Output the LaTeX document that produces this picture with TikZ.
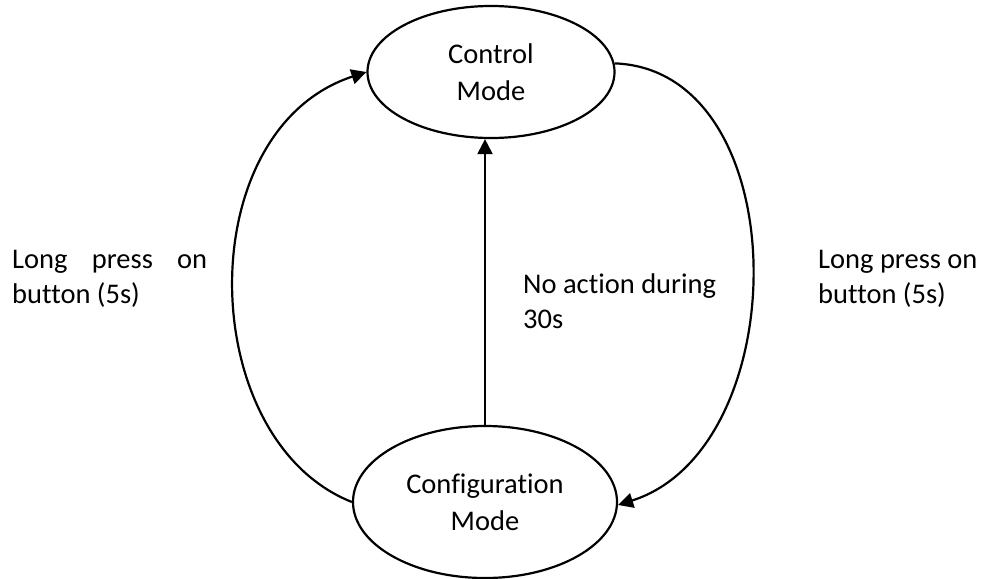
\documentclass[tikz,border=0pt]{standalone}
\usepackage{fontspec}
\setmainfont{Carlito}[Ligatures={NoCommon}]
\usetikzlibrary{shapes.geometric,arrows.meta}
\begin{document}
\begin{tikzpicture}[x=1pt,y=-1pt,
  state/.style={ellipse,draw,line width=2.2pt,inner sep=0pt,align=center,font=\fontsize{28.5}{37}\selectfont},
  lbl/.style={inner sep=0pt,anchor=base west,align=flush left,font=\fontsize{28.5}{35}\selectfont},
  conn/.style={line width=2.2pt,-{Triangle[length=15pt,width=15pt]}}]
\useasboundingbox (0,0) rectangle (984,578);
\fill[white] (0,0) rectangle (984,578);
\node[state,minimum width=247pt,minimum height=132pt] (ctl) at (491,72) {Control\\Mode};
\node[state,minimum width=264pt,minimum height=152pt] (cfg) at (485,502) {Configuration\\Mode};
\draw[conn] (cfg.west) .. controls (195,440) and (189,130) .. (ctl.west);
\draw[conn] (ctl.4) .. controls (797,70) and (797,448) .. ([yshift=-3pt]cfg.east);
\draw[conn] (cfg.north) -- (ctl.south -| cfg.north);
\node[lbl] (l1) at (12,303) {\makebox[195pt][s]{Long press on}\\button (5s)};
\node[lbl] (l2) at (523,328) {No action during\\30s};
\node[lbl] (l3) at (818,303) {Long press on\\button (5s)};
\end{tikzpicture}
\end{document}
